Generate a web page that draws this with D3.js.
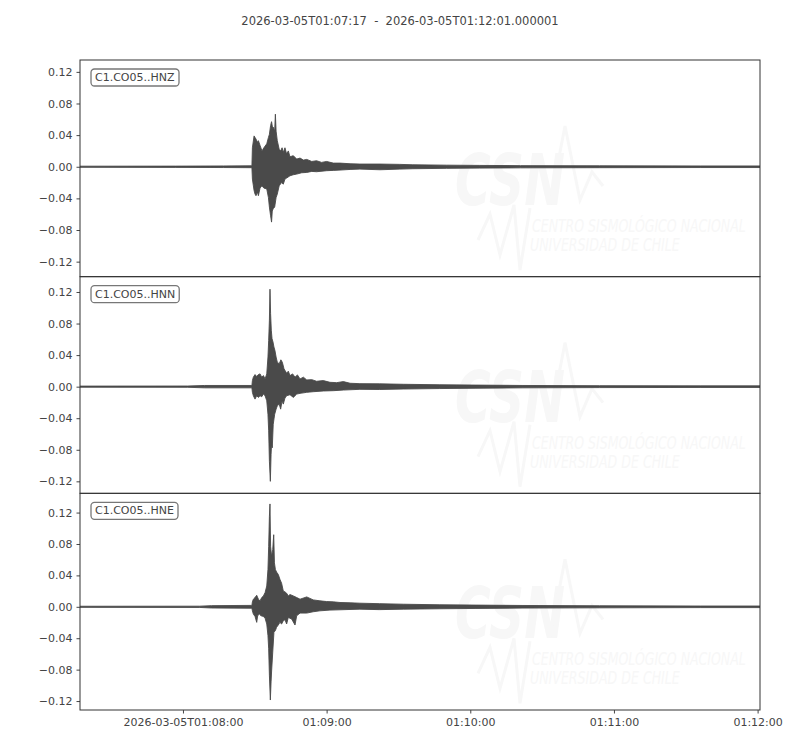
<!DOCTYPE html>
<html>
<head>
<meta charset="utf-8">
<script src="https://cdn.jsdelivr.net/npm/d3@7"></script>
<style>
  body { margin: 0; background: #fff; }
  svg { font-family: "DejaVu Sans", sans-serif; }
</style>
</head>
<body>
<div id="chart"></div>
<script>
// trace times are seconds after 2026-03-05T01:07:17 (UTC)
const startTime = Date.UTC(2026, 2, 5, 1, 7, 17);
const endTime = Date.UTC(2026, 2, 5, 1, 12, 1);
const titleText = "2026-03-05T01:07:17  -  2026-03-05T01:12:01.000001";

const channels = ["C1.CO05..HNZ", "C1.CO05..HNN", "C1.CO05..HNE"];
const yLimits = [[-0.139, 0.135], [-0.1352, 0.1394], [-0.1314, 0.1445]];
const yTicks = [-0.12, -0.08, -0.04, 0, 0.04, 0.08, 0.12];
const xTicks = ["01:08:00", "01:09:00", "01:10:00", "01:11:00", "01:12:00"];

// envelope of each trace, [seconds, value]
const hnzMax = [[0,0.0007],[40,0.0008],[60,0.001],[71.8,0.0012],[72.0,0.024],[72.7,0.039],[73.1,0.037],[73.5,0.035],[74.1,0.031],[74.5,0.033],[75.2,0.027],[76.0,0.020],[76.8,0.024],[78.0,0.029],[78.7,0.037],[79.1,0.041],[79.6,0.052],[80.0,0.057],[80.5,0.048],[80.7,0.050],[81.3,0.045],[81.6,0.0665],[81.9,0.045],[82.4,0.033],[83.2,0.022],[83.8,0.020],[84.4,0.024],[84.9,0.018],[85.6,0.024],[86.3,0.016],[87.0,0.020],[87.7,0.0126],[89.1,0.014],[90.5,0.0097],[91.9,0.011],[93.3,0.0084],[94.7,0.0093],[96.8,0.0067],[98.8,0.0076],[100.9,0.0055],[103.0,0.0067],[105.8,0.0046],[108.6,0.0046],[112.8,0.0038],[116.9,0.0034],[125.3,0.0034],[133.6,0.003],[139,0.0025],[153,0.002],[167,0.0017],[184,0.0014],[217,0.0012],[259,0.001],[284,0.001]];
const hnzMin = [[0,-0.0007],[40,-0.0008],[60,-0.001],[71.8,-0.0012],[72.0,-0.0156],[72.7,-0.030],[73.1,-0.0345],[73.5,-0.0366],[74.1,-0.032],[74.5,-0.0366],[75.2,-0.027],[76.0,-0.024],[76.8,-0.027],[78.0,-0.028],[78.7,-0.039],[79.1,-0.051],[79.6,-0.062],[80.0,-0.070],[80.3,-0.056],[80.7,-0.053],[81.3,-0.051],[81.9,-0.039],[82.4,-0.0345],[83.2,-0.024],[84.2,-0.020],[84.9,-0.022],[85.6,-0.0156],[86.3,-0.0143],[87.7,-0.0114],[89.1,-0.0101],[90.5,-0.0093],[92.6,-0.0076],[94.7,-0.0072],[96.8,-0.0059],[98.8,-0.0063],[103.0,-0.005],[105.8,-0.0046],[108.6,-0.0042],[112.8,-0.0034],[116.9,-0.003],[125.3,-0.0038],[133.6,-0.003],[139,-0.0025],[153,-0.002],[167,-0.0017],[184,-0.0014],[217,-0.0012],[259,-0.001],[284,-0.001]];

const hnnMax = [[0,0.0007],[45,0.0008],[52,0.0015],[71.8,0.0015],[72.0,0.0077],[72.4,0.012],[73.1,0.0153],[73.8,0.0128],[74.5,0.0153],[75.2,0.0162],[75.9,0.012],[76.6,0.014],[77.3,0.0098],[78.0,0.0162],[78.5,0.0375],[78.8,0.0587],[79.1,0.0843],[79.35,0.1235],[79.6,0.0928],[79.9,0.0715],[80.2,0.0609],[80.6,0.0566],[81.0,0.0502],[81.4,0.046],[81.9,0.0375],[82.4,0.031],[83.2,0.029],[83.9,0.034],[84.5,0.031],[85.2,0.0226],[86.3,0.017],[87.0,0.0196],[87.7,0.014],[88.8,0.0162],[89.8,0.012],[90.8,0.0149],[91.9,0.0098],[93.3,0.012],[94.7,0.0085],[96.8,0.0089],[98.8,0.0068],[101.6,0.0077],[104.4,0.0055],[107.2,0.0051],[110.0,0.0064],[112.8,0.0043],[116.9,0.0038],[125,0.0036],[135,0.003],[150,0.0024],[165,0.002],[185,0.0015],[217,0.0012],[259,0.001],[284,0.001]];
const hnnMin = [[0,-0.0007],[45,-0.0008],[52,-0.0015],[71.8,-0.0015],[72.0,-0.0072],[72.4,-0.0115],[73.1,-0.0158],[73.8,-0.0115],[74.5,-0.0136],[75.2,-0.0115],[75.9,-0.0128],[76.6,-0.0094],[77.3,-0.0115],[78.0,-0.0179],[78.5,-0.035],[78.8,-0.056],[79.1,-0.0945],[79.5,-0.120],[79.8,-0.086],[80.0,-0.073],[80.3,-0.0775],[80.7,-0.0477],[81.3,-0.035],[81.9,-0.0285],[82.4,-0.0243],[83.2,-0.0221],[83.8,-0.0285],[84.4,-0.0179],[84.9,-0.0221],[85.6,-0.0145],[86.3,-0.0115],[87.7,-0.0102],[89.1,-0.0136],[90.5,-0.0094],[91.9,-0.0085],[94.7,-0.0072],[97.4,-0.0064],[101.6,-0.0055],[105.8,-0.0051],[110.0,-0.0043],[116.9,-0.0034],[125,-0.0036],[135,-0.003],[150,-0.0024],[165,-0.002],[185,-0.0015],[217,-0.0012],[259,-0.001],[284,-0.001]];

const hneMax = [[0,0.0007],[50,0.0008],[55,0.0015],[71.8,0.0018],[72.0,0.0063],[72.4,0.0097],[73.1,0.0118],[73.8,0.0147],[74.5,0.0097],[75.2,0.0076],[75.9,0.0118],[76.6,0.0139],[77.3,0.0181],[78.0,0.0265],[78.5,0.0476],[78.8,0.077],[79.1,0.115],[79.35,0.131],[79.6,0.077],[80.0,0.0644],[80.5,0.0728],[80.9,0.0918],[81.2,0.056],[81.6,0.0476],[82.1,0.0442],[82.8,0.0413],[83.5,0.035],[84.2,0.030],[84.9,0.0202],[85.6,0.019],[86.3,0.0173],[87.0,0.0139],[87.7,0.0156],[89.1,0.0139],[90.5,0.0118],[91.9,0.0097],[94.7,0.0126],[97.4,0.0088],[100.2,0.0076],[103.0,0.0067],[105.8,0.0063],[108.6,0.0055],[112.8,0.0051],[116.9,0.0046],[125,0.004],[135,0.0033],[150,0.0026],[165,0.0022],[185,0.0017],[217,0.0013],[259,0.001],[284,0.001]];
const hneMin = [[0,-0.0007],[50,-0.0008],[55,-0.0015],[71.8,-0.0018],[72.0,-0.0051],[72.4,-0.0093],[73.1,-0.0122],[73.8,-0.0198],[74.2,-0.0114],[74.9,-0.0093],[75.6,-0.0114],[76.6,-0.0122],[77.3,-0.0147],[78.0,-0.0219],[78.5,-0.0366],[78.8,-0.0535],[79.1,-0.087],[79.5,-0.1187],[79.8,-0.0956],[80.0,-0.083],[80.5,-0.0577],[81.0,-0.0324],[81.6,-0.0303],[82.1,-0.0261],[82.8,-0.0232],[83.5,-0.0198],[84.2,-0.0219],[84.9,-0.0177],[85.6,-0.0164],[86.3,-0.0219],[87.0,-0.0135],[88.4,-0.0156],[89.8,-0.0232],[90.5,-0.0114],[91.9,-0.008],[94.7,-0.008],[97.4,-0.0063],[100.2,-0.0051],[104.4,-0.0042],[108.6,-0.0038],[116.9,-0.003],[125,-0.0036],[135,-0.003],[150,-0.0025],[165,-0.0021],[185,-0.0016],[217,-0.0013],[259,-0.001],[284,-0.001]];

const traces = [[hnzMax, hnzMin], [hnnMax, hnnMin], [hneMax, hneMin]];

const width = 800, height = 750;
const margin = { top: 60, right: 40, bottom: 40, left: 80 };
const plotH = (height - margin.top - margin.bottom) / 3;
const ink = "#444";
const traceColor = "#4a4a4a";
const markColor = "#f7f7f7";

const svg = d3.select("#chart").append("svg")
  .attr("width", width)
  .attr("height", height);

svg.append("text")
  .attr("x", 400).attr("y", 25)
  .attr("text-anchor", "middle")
  .attr("font-size", 11.5)
  .attr("fill", ink)
  .style("white-space", "pre")
  .text(titleText);

const x = d3.scaleUtc()
  .domain([new Date(startTime), new Date(endTime)])
  .range([margin.left, width - margin.right]);

const toDate = s => new Date(startTime + s * 1000);

// squeeze a watermark text horizontally to a given width
function narrowText(parent, str, x0, y0, size, w, weight) {
  const g = parent.append("g");
  const t = g.append("text")
    .attr("font-size", size).attr("font-style", "italic")
    .attr("font-weight", weight || "normal")
    .attr("stroke", "none")
    .text(str);
  const k = w / t.node().getComputedTextLength();
  g.attr("transform", `translate(${x0},${y0}) scale(${k},1)`);
}

channels.forEach((name, i) => {
  const top = margin.top + i * plotH;
  const y = d3.scaleLinear().domain(yLimits[i]).range([top + plotH, top]);

  // faint CSN watermark
  const wm = svg.append("g")
    .attr("transform", `translate(0,${top - margin.top})`)
    .attr("fill", markColor).attr("stroke", markColor);
  narrowText(wm, "CSN", 455, 205, 72, 110, "bold");
  wm.append("polyline")
    .attr("points", "550,204 565,126 580,200 592,172 603,186")
    .attr("fill", "none").attr("stroke-width", 3);
  wm.append("polyline")
    .attr("points", "478,240 490,214 500,255 514,205 520,270 530,208")
    .attr("fill", "none").attr("stroke-width", 3);
  narrowText(wm, "CENTRO SISMOLÓGICO NACIONAL", 532, 232, 17, 214);
  narrowText(wm, "UNIVERSIDAD DE CHILE", 530, 251, 17, 150);

  svg.append("clipPath").attr("id", "clip" + i)
    .append("rect")
    .attr("x", margin.left).attr("y", top)
    .attr("width", width - margin.left - margin.right)
    .attr("height", plotH);

  const g = svg.append("g").attr("clip-path", `url(#clip${i})`);

  // waveform envelope
  const [upper, lower] = traces[i];
  const pts = upper.concat(lower.slice().reverse());
  const line = d3.line()
    .x(d => x(toDate(d[0])))
    .y(d => y(d[1]));
  g.append("path")
    .attr("d", line(pts) + "Z")
    .attr("fill", traceColor)
    .attr("stroke", traceColor)
    .attr("stroke-width", 0.9)
    .attr("stroke-linejoin", "round");

  // y axis
  const yAxis = svg.append("g")
    .attr("transform", `translate(${margin.left},0)`)
    .call(d3.axisLeft(y).tickValues(yTicks).tickFormat(d3.format(".2f")).tickSize(3.5).tickPadding(4));
  yAxis.select(".domain").remove();
  yAxis.selectAll("line").attr("stroke", ink);
  yAxis.selectAll("text").attr("fill", ink).attr("font-size", 11).attr("font-family", "DejaVu Sans");

  // frame
  svg.append("rect")
    .attr("x", margin.left).attr("y", top)
    .attr("width", width - margin.left - margin.right)
    .attr("height", plotH)
    .attr("fill", "none").attr("stroke", "#333").attr("stroke-width", 1);

  // station label
  const lbl = svg.append("g");
  const t = lbl.append("text")
    .attr("x", 95).attr("y", top + 21)
    .attr("font-size", 11).attr("fill", ink)
    .text(name);
  const bb = t.node().getBBox();
  lbl.insert("rect", "text")
    .attr("x", bb.x - 4).attr("y", bb.y - 2)
    .attr("width", bb.width + 8).attr("height", bb.height + 4)
    .attr("rx", 3.5)
    .attr("fill", "#fff").attr("stroke", "#777").attr("stroke-width", 1.3);
});

// x axis on bottom panel
const tickDates = xTicks.map(s => new Date(Date.parse("2026-03-05T" + s + "Z")));
const xAxis = svg.append("g")
  .attr("transform", `translate(0,${height - margin.bottom})`)
  .call(d3.axisBottom(x).tickValues(tickDates).tickSize(3.5).tickPadding(5)
    .tickFormat((d, k) => k === 0 ? "2026-03-05T" + xTicks[k] : xTicks[k]));
xAxis.select(".domain").remove();
xAxis.selectAll("line").attr("stroke", ink);
xAxis.selectAll("text").attr("fill", ink).attr("font-size", 11).attr("font-family", "DejaVu Sans");
</script>
</body>
</html>
